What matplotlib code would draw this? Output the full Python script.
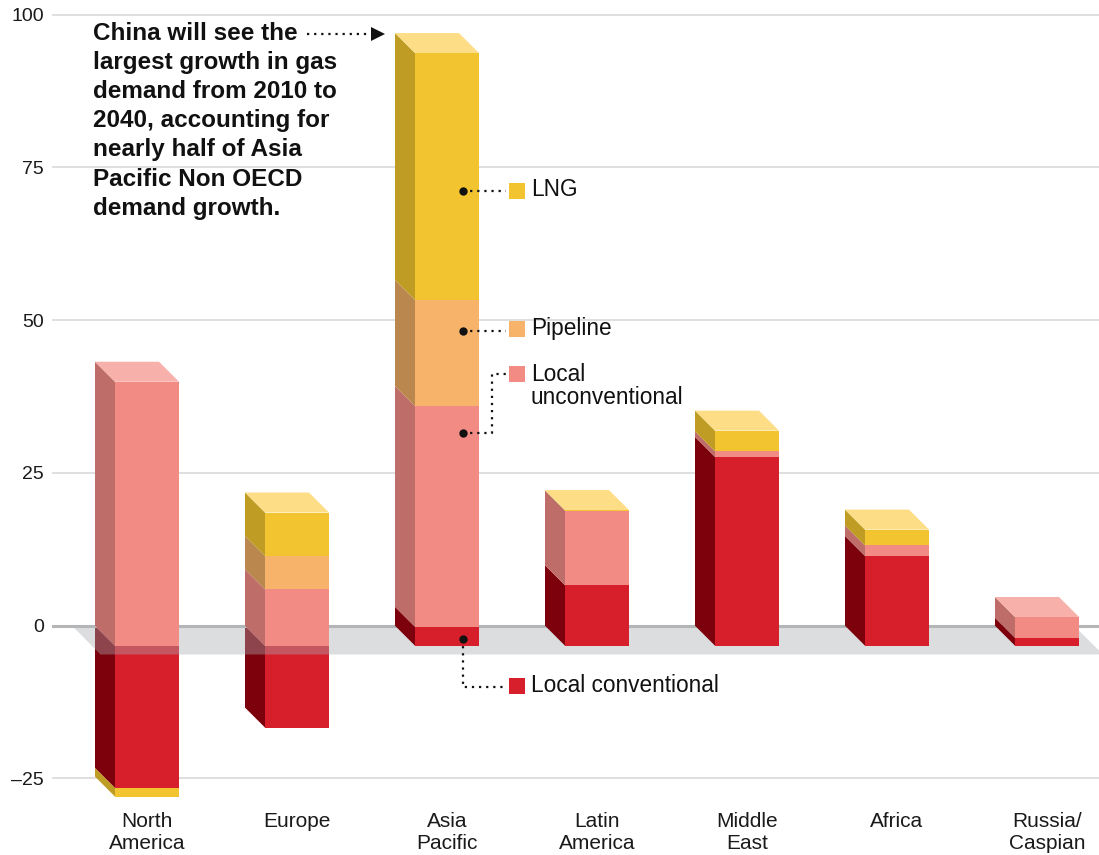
import matplotlib
matplotlib.use("Agg")
import matplotlib.pyplot as plt
from matplotlib.patches import Polygon, Rectangle

plt.rcParams['font.family'] = ['Liberation Sans', 'DejaVu Sans']

# Gas demand growth 2010-2040 by supply source (bcf/d)
regions = ["North\nAmerica", "Europe", "Asia\nPacific", "Latin\nAmerica",
           "Middle\nEast", "Africa", "Russia/\nCaspian"]
local_conventional = [-23.3, -13.4, 3.1, 9.9, 30.9, 14.7, 1.3]
local_unconventional = [43.2, 9.2, 36.1, 12.2, 0.9, 1.7, 3.4]
pipeline = [0.0, 5.5, 17.4, 0.0, 0.0, 0.0, 0.0]
lng = [-1.4, 7.1, 40.4, 0.1, 3.4, 2.6, 0.0]
y_ticks = [-25, 0, 25, 50, 75, 100]
series_labels = ["Local conventional", "Local\nunconventional", "Pipeline", "LNG"]

# front / side / top shades for each source
front_colors = ["#D61F2B", "#F28B84", "#F8B36B", "#F2C530"]
side_colors = ["#7D000D", "#BF6D69", "#BA874F", "#BF9D25"]
top_colors = ["#B8323A", "#F7B1AA", "#FBCB96", "#FDDD86"]

# pixel layout helpers (figure is 1099 x 855 px)
FIG_W, FIG_H = 1099, 855
X0, XS = 147.0, 150.0      # px of first category, px per category
Y0, YS = 625.7, 6.11       # px of zero line, px per unit


def P(xp, yp):
    return ((xp - X0) / XS, (Y0 - yp) / YS)


BAR_W = 64 / XS
DX = 20 / XS
DY = 20 / YS

fig = plt.figure(figsize=(FIG_W / 100, FIG_H / 100), dpi=100)
ax = fig.add_axes([52 / FIG_W, 50 / FIG_H, 1047 / FIG_W, 800 / FIG_H])
ax.set_xlim(P(52, 0)[0], P(FIG_W, 0)[0])
ax.set_ylim(P(0, 805)[1], P(0, 5)[1])
for s in ax.spines.values():
    s.set_visible(False)

# grid
for t in y_ticks:
    if t == 0:
        ax.axhline(0, color="#B4B5B7", lw=2.2, zorder=3.5)
    else:
        ax.axhline(t, color="#D9D9D9", lw=1.2, zorder=0.5)

ax.set_yticks(y_ticks)
ax.set_yticklabels([str(t) if t >= 0 else "\u2013" + str(-t) for t in y_ticks])
ax.set_xticks(range(len(regions)))
ax.set_xticklabels(regions, linespacing=1.22)
ax.tick_params(axis="y", length=0, pad=6, labelsize=14, labelcolor="#1a1a1a")
ax.tick_params(axis="x", length=0, pad=5, labelsize=15, labelcolor="#1a1a1a")

# translucent floor at the zero plane
fx_bl, _ = P(72, 0)
fx_fl, fy_f = P(100.5, 654.5)
fx_br, _ = P(1074, 0)
fx_fr, _ = P(1103, 0)
floor = Polygon([(fx_bl, 0), (fx_br, 0), (fx_fr, fy_f), (fx_fl, fy_f)],
                closed=True, facecolor="#A9ABAE", alpha=0.4, lw=0, zorder=3)
ax.add_patch(floor)


def draw_segment(i, a, b, k, z):
    xl = i - BAR_W / 2
    ax.add_patch(Polygon([(xl, a - DY), (xl, b - DY), (xl - DX, b), (xl - DX, a)],
                         closed=True, facecolor=side_colors[k], lw=0, zorder=z))
    ax.add_patch(Rectangle((xl, a - DY), BAR_W, b - a,
                           facecolor=front_colors[k], lw=0, zorder=z + 0.1))


def draw_top(i, t, k):
    xl = i - BAR_W / 2
    xr = i + BAR_W / 2
    ax.add_patch(Polygon([(xl, t - DY), (xr, t - DY), (xr - DX, t), (xl - DX, t)],
                         closed=True, facecolor=top_colors[k], lw=0, zorder=4.2))


series = [local_conventional, local_unconventional, pipeline, lng]
for i in range(len(regions)):
    pos, neg = 0.0, 0.0
    top_k = None
    for k, vals in enumerate(series):
        v = vals[i]
        if v > 0:
            draw_segment(i, pos, pos + v, k, 4)
            pos += v
            top_k = k
        elif v < 0:
            draw_segment(i, neg + v, neg, k, 2)
            neg += v
    if top_k is not None:
        draw_top(i, pos, top_k)

# annotation about China
note = ("China will see the\nlargest growth in gas\ndemand from 2010 to\n"
        "2040, accounting for\nnearly half of Asia\nPacific Non OECD\ndemand growth.")
tx, ty = P(93, 22)
ax.text(tx, ty, note, ha="left", va="top", fontsize=17.5, fontweight="bold",
        color="#111111", linespacing=1.34, zorder=6)
ax1, ay1 = P(307, 34)
ax2, _ = P(378, 34)
ax.plot([ax1, ax2], [ay1, ay1], color="#111111", lw=1.6, ls=(0, (1, 2.2)), zorder=6)
ax.plot([P(378, 34)[0]], [ay1], marker=">", ms=10, color="#111111", mew=0, zorder=6)

# legend call-outs tied to the Asia Pacific column
DOT_X = 463
SQ_X = 516.5
TXT_X = 531
lc = "#111111"
dotted = dict(color=lc, lw=1.6, ls=(0, (1, 2.2)), zorder=6)


def square(yp, k):
    x, y = P(SQ_X, yp)
    ax.plot([x], [y], marker="s", ms=11, color=front_colors[k], mew=0, zorder=6)


def label(yp, text):
    x, y = P(TXT_X, yp)
    ax.text(x, y, text, ha="left", va="center", fontsize=16.3, color="#111111",
            linespacing=1.0, zorder=6)


def dot(yp):
    x, y = P(DOT_X, yp)
    ax.plot([x], [y], marker="o", ms=6, color=lc, mew=0, zorder=7)


# LNG
dot(191)
ax.plot([P(DOT_X, 0)[0], P(506, 0)[0]], [P(0, 191)[1]] * 2, **dotted)
square(191, 3)
label(190, series_labels[3])

# Pipeline
dot(331)
ax.plot([P(DOT_X, 0)[0], P(506, 0)[0]], [P(0, 331)[1]] * 2, **dotted)
square(329, 2)
label(329, series_labels[2])

# Local unconventional
dot(432.7)
xs = [P(DOT_X, 0)[0], P(492, 0)[0], P(492, 0)[0], P(506, 0)[0]]
ys = [P(0, 432.7)[1], P(0, 432.7)[1], P(0, 374)[1], P(0, 374)[1]]
ax.plot(xs, ys, **dotted)
square(374, 1)
x, y = P(TXT_X, 363)
ax.text(x, y, series_labels[1], ha="left", va="top", fontsize=16.3,
        color="#111111", linespacing=1.0, zorder=6)

# Local conventional
dot(639)
xs = [P(DOT_X, 0)[0], P(DOT_X, 0)[0], P(506, 0)[0]]
ys = [P(0, 639)[1], P(0, 686.5)[1], P(0, 686.5)[1]]
ax.plot(xs, ys, **dotted)
square(685.5, 0)
label(685.5, series_labels[0])

fig.savefig("out.png", dpi=100)
